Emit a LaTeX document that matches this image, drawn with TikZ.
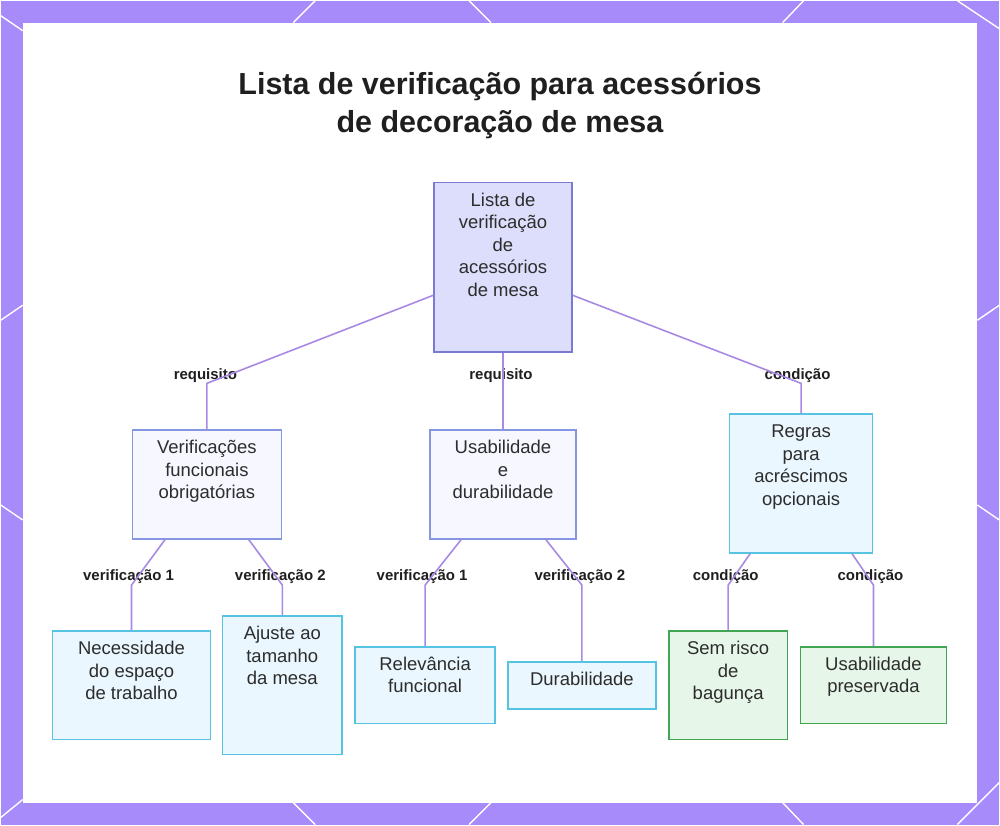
\documentclass[tikz,border=0pt]{standalone}
\usepackage{fontspec}
\setmainfont{Liberation Sans}
\usetikzlibrary{calc}
\definecolor{framepurple}{RGB}{167,139,250}
\definecolor{linkpurple}{RGB}{168,138,228}
\definecolor{rootfill}{RGB}{221,222,252}
\definecolor{rootdraw}{RGB}{122,122,210}
\definecolor{midfill}{RGB}{246,247,255}
\definecolor{middraw}{RGB}{135,150,225}
\definecolor{cyanfill}{RGB}{234,247,254}
\definecolor{cyandraw}{RGB}{85,195,225}
\definecolor{greenfill}{RGB}{230,246,232}
\definecolor{greendraw}{RGB}{65,165,85}
\definecolor{inkgray}{RGB}{45,45,45}
\newcommand{\boxtxt}[3]{\parbox[c][#2][t]{#1}{\centering\vspace*{8pt}\strut#3}}

\begin{document}
\begin{tikzpicture}[x=1pt,y=-1pt,
  font=\fontsize{18.5}{22.5}\selectfont,
  box/.style={inner sep=0pt,line width=1.6pt,text=inkgray},
  rootbox/.style={box,draw=rootdraw,fill=rootfill},
  midbox/.style={box,draw=middraw,fill=midfill},
  cyanbox/.style={box,draw=cyandraw,fill=cyanfill},
  greenbox/.style={box,draw=greendraw,fill=greenfill},
  lbl/.style={inner sep=1pt,font=\fontsize{15}{18}\selectfont\bfseries,text=black!88},
  link/.style={draw=linkpurple,line width=1.6pt}
]
  % frame
  \fill[framepurple] (0,0) rectangle (1000,825);
  \draw[white,line width=1.4pt]
    (315,0) -- (293,22)  (469,0) -- (491,22)  (804,0) -- (783,22)  (958,0) -- (1000,28)
    (0,15) -- (22,30)  (0,320) -- (22,305)  (0,505) -- (22,520)  (0,818) -- (22,800)
    (978,320) -- (1000,305)  (978,505) -- (1000,520)
    (293,803) -- (315,825)  (491,803) -- (469,825)  (783,803) -- (804,825)  (1000,783) -- (958,825);
  \fill[white] (22,22) rectangle (978,803);

  \node[font=\fontsize{30.5}{38}\selectfont\bfseries,text=black!88,align=center] (title) at (500,105)
    {Lista de verificação para acessórios\\de decoração de mesa};

  \node[rootbox] (root) at (503,267) {\boxtxt{138pt}{170pt}{Lista de\\verificação\\de\\acessórios\\de mesa}};

  \node[midbox] (verif) at (206.5,484.5) {\boxtxt{149pt}{109pt}{Verificações\\funcionais\\obrigatórias}};
  \node[midbox] (usab) at (503,484.5) {\boxtxt{146pt}{109pt}{Usabilidade\\e\\durabilidade}};
  \node[cyanbox] (regras) at (801.5,483.5) {\boxtxt{143pt}{139pt}{Regras\\para\\acréscimos\\opcionais}};

  \node[cyanbox] (nec) at (131,685.5) {\boxtxt{158pt}{109pt}{Necessidade\\do espaço\\de trabalho}};
  \node[cyanbox] (ajuste) at (282,685.5) {\boxtxt{120pt}{139pt}{Ajuste ao\\tamanho\\da mesa}};
  \node[cyanbox] (relev) at (425,685.5) {\boxtxt{140pt}{77pt}{Relevância\\funcional}};
  \node[cyanbox] (dur) at (582,685.5) {\boxtxt{148pt}{47pt}{Durabilidade}};
  \node[greenbox] (sem) at (728.5,685.5) {\boxtxt{119pt}{109pt}{Sem risco\\de\\bagunça}};
  \node[greenbox] (usapres) at (874,685.5) {\boxtxt{146pt}{77pt}{Usabilidade\\preservada}};

  \node[lbl] (reqL) at (205,375) {requisito};
  \node[lbl] (reqM) at (501,375) {requisito};
  \node[lbl] (condR) at (798,375) {condição};
  \node[lbl] (v1a) at (128,577) {verificação 1};
  \node[lbl] (v2a) at (280,577) {verificação 2};
  \node[lbl] (v1b) at (422,577) {verificação 1};
  \node[lbl] (v2b) at (580,577) {verificação 2};
  \node[lbl] (cA) at (726,577) {condição};
  \node[lbl] (cB) at (871,577) {condição};

  \draw[link] ([yshift=-28pt]root.west) -- (verif.north |- reqL.south) -- (verif.north);
  \draw[link] (root.south) -- (usab.north);
  \draw[link] ([yshift=-28pt]root.east) -- (regras.north |- condR.south) -- (regras.north);
  \draw[link] ([xshift=-42pt]verif.south) -- (nec.north |- v1a.south) -- (nec.north);
  \draw[link] ([xshift=42pt]verif.south) -- (ajuste.north |- v2a.south) -- (ajuste.north);
  \draw[link] ([xshift=-42pt]usab.south) -- (relev.north |- v1b.south) -- (relev.north);
  \draw[link] ([xshift=43pt]usab.south) -- (dur.north |- v2b.south) -- (dur.north);
  \draw[link] ([xshift=-51pt]regras.south) -- (sem.north |- cA.south) -- (sem.north);
  \draw[link] ([xshift=51pt]regras.south) -- (usapres.north |- cB.south) -- (usapres.north);

  \useasboundingbox (0,0) rectangle (1000,825);
\end{tikzpicture}
\end{document}
